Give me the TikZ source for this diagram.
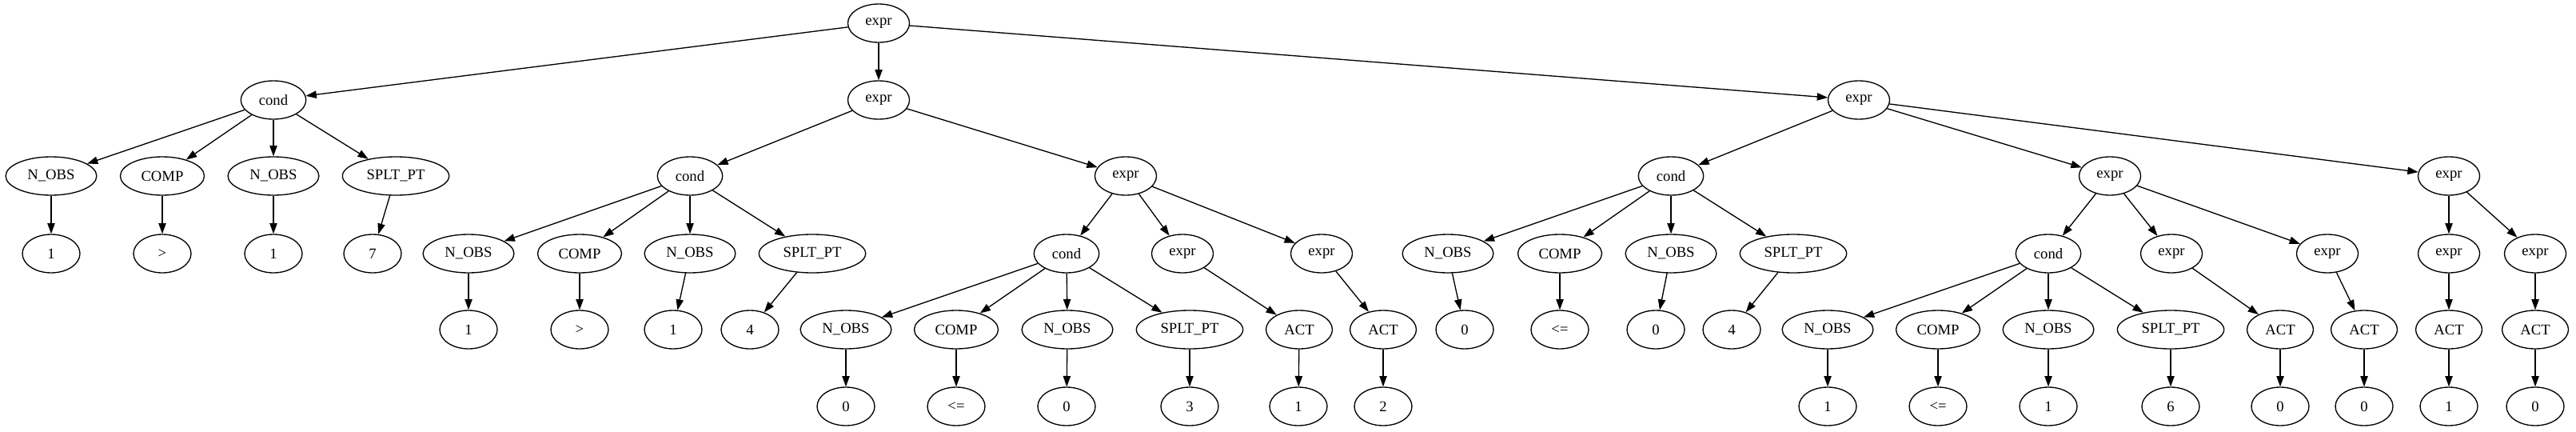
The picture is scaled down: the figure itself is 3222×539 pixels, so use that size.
\documentclass[tikz,border=0pt]{standalone}
\usepackage{fontspec}
\setmainfont{Liberation Serif}
\usetikzlibrary{arrows.meta,shapes.geometric}
\begin{document}
\begin{tikzpicture}[x=0.75pt,y=-0.75pt]
        \tikzstyle{node_style} = [ellipse,draw=black,line width=1pt,inner xsep=8pt,inner ysep=2pt,minimum width=54pt,minimum height=36pt,font=\fontsize{14pt}{16pt}\selectfont]
        \tikzstyle{edge_style} = [draw=black,line width=1pt,-{Triangle[length=10pt,width=7pt]}]
        \useasboundingbox (0,0) rectangle (3222,539);
        % row 0 and 1
        \node[node_style] (r) at (1099,29) {expr};
        \node[node_style] (a) at (342,125) {cond};
        \node[node_style] (b) at (1099,125) {expr};
        \node[node_style] (c) at (2325,125) {expr};
        % row 2
        \node[node_style] (a1) at (64,220) {N\_OBS};
        \node[node_style] (a2) at (203,220) {COMP};
        \node[node_style] (a3) at (342,220) {N\_OBS};
        \node[node_style] (a4) at (495,220) {SPLT\_PT};
        \node[node_style] (b1) at (863,220) {cond};
        \node[node_style] (b2) at (1408,220) {expr};
        \node[node_style] (c1) at (2090,220) {cond};
        \node[node_style] (c2) at (2639,220) {expr};
        \node[node_style] (c3) at (3063,220) {expr};
        % row 3
        \node[node_style] (a1l) at (64,317) {1};
        \node[node_style] (a2l) at (203,317) {>};
        \node[node_style] (a3l) at (342,317) {1};
        \node[node_style] (a4l) at (466,317) {7};
        \node[node_style] (b11) at (586,317) {N\_OBS};
        \node[node_style] (b12) at (725,317) {COMP};
        \node[node_style] (b13) at (863,317) {N\_OBS};
        \node[node_style] (b14) at (1016,317) {SPLT\_PT};
        \node[node_style] (b21) at (1334,317) {cond};
        \node[node_style] (b22) at (1479,317) {expr};
        \node[node_style] (b23) at (1653,317) {expr};
        \node[node_style] (c11) at (1811,317) {N\_OBS};
        \node[node_style] (c12) at (1951,317) {COMP};
        \node[node_style] (c13) at (2090,317) {N\_OBS};
        \node[node_style] (c14) at (2243,317) {SPLT\_PT};
        \node[node_style] (c21) at (2562,317) {cond};
        \node[node_style] (c22) at (2716,317) {expr};
        \node[node_style] (c23) at (2911,317) {expr};
        \node[node_style] (c31) at (3063,317) {expr};
        \node[node_style] (c32) at (3171,317) {expr};
        % row 4
        \node[node_style] (b11l) at (586,412) {1};
        \node[node_style] (b12l) at (725,412) {>};
        \node[node_style] (b13l) at (842,412) {1};
        \node[node_style] (b14l) at (938,412) {4};
        \node[node_style] (b211) at (1058,412) {N\_OBS};
        \node[node_style] (b212) at (1196,412) {COMP};
        \node[node_style] (b213) at (1335,412) {N\_OBS};
        \node[node_style] (b214) at (1488,412) {SPLT\_PT};
        \node[node_style] (b22a) at (1625,412) {ACT};
        \node[node_style] (b23a) at (1730,412) {ACT};
        \node[node_style] (c11l) at (1832,412) {0};
        \node[node_style] (c12l) at (1951,412) {<=};
        \node[node_style] (c13l) at (2071,412) {0};
        \node[node_style] (c14l) at (2166,412) {4};
        \node[node_style] (c211) at (2286,412) {N\_OBS};
        \node[node_style] (c212) at (2424,412) {COMP};
        \node[node_style] (c213) at (2562,412) {N\_OBS};
        \node[node_style] (c214) at (2715,412) {SPLT\_PT};
        \node[node_style] (c22a) at (2852,412) {ACT};
        \node[node_style] (c23a) at (2957,412) {ACT};
        \node[node_style] (c31a) at (3063,412) {ACT};
        \node[node_style] (c32a) at (3171,412) {ACT};
        % row 5
        \node[node_style] (b211l) at (1058,508) {0};
        \node[node_style] (b212l) at (1196,508) {<=};
        \node[node_style] (b213l) at (1334,508) {0};
        \node[node_style] (b214l) at (1488,508) {3};
        \node[node_style] (b22l) at (1624,508) {1};
        \node[node_style] (b23l) at (1730,508) {2};
        \node[node_style] (c211l) at (2286,508) {1};
        \node[node_style] (c212l) at (2424,508) {<=};
        \node[node_style] (c213l) at (2562,508) {1};
        \node[node_style] (c214l) at (2715,508) {6};
        \node[node_style] (c22l) at (2852,508) {0};
        \node[node_style] (c23l) at (2957,508) {0};
        \node[node_style] (c31l) at (3063,508) {1};
        \node[node_style] (c32l) at (3171,508) {0};
        % edges
        \draw[edge_style]  (r) edge (a) (r) edge (b) (r) edge (c);
        \draw[edge_style]  (a) edge (a1) (a) edge (a2) (a) edge (a3) (a) edge (a4);
        \draw[edge_style]  (a1) edge (a1l) (a2) edge (a2l) (a3) edge (a3l) (a4) edge (a4l);
        \draw[edge_style]  (b) edge (b1) (b) edge (b2);
        \draw[edge_style]  (b1) edge (b11) (b1) edge (b12) (b1) edge (b13) (b1) edge (b14);
        \draw[edge_style]  (b11) edge (b11l) (b12) edge (b12l) (b13) edge (b13l) (b14) edge (b14l);
        \draw[edge_style]  (b2) edge (b21) (b2) edge (b22) (b2) edge (b23);
        \draw[edge_style]  (b21) edge (b211) (b21) edge (b212) (b21) edge (b213) (b21) edge (b214);
        \draw[edge_style]  (b211) edge (b211l) (b212) edge (b212l) (b213) edge (b213l) (b214) edge (b214l);
        \draw[edge_style]  (b22) edge (b22a) (b22a) edge (b22l) (b23) edge (b23a) (b23a) edge (b23l);
        \draw[edge_style]  (c) edge (c1) (c) edge (c2) (c) edge (c3);
        \draw[edge_style]  (c1) edge (c11) (c1) edge (c12) (c1) edge (c13) (c1) edge (c14);
        \draw[edge_style]  (c11) edge (c11l) (c12) edge (c12l) (c13) edge (c13l) (c14) edge (c14l);
        \draw[edge_style]  (c2) edge (c21) (c2) edge (c22) (c2) edge (c23);
        \draw[edge_style]  (c21) edge (c211) (c21) edge (c212) (c21) edge (c213) (c21) edge (c214);
        \draw[edge_style]  (c211) edge (c211l) (c212) edge (c212l) (c213) edge (c213l) (c214) edge (c214l);
        \draw[edge_style]  (c22) edge (c22a) (c22a) edge (c22l) (c23) edge (c23a) (c23a) edge (c23l);
        \draw[edge_style]  (c3) edge (c31) (c3) edge (c32);
        \draw[edge_style]  (c31) edge (c31a) (c31a) edge (c31l) (c32) edge (c32a) (c32a) edge (c32l);
      \end{tikzpicture}
\end{document}
